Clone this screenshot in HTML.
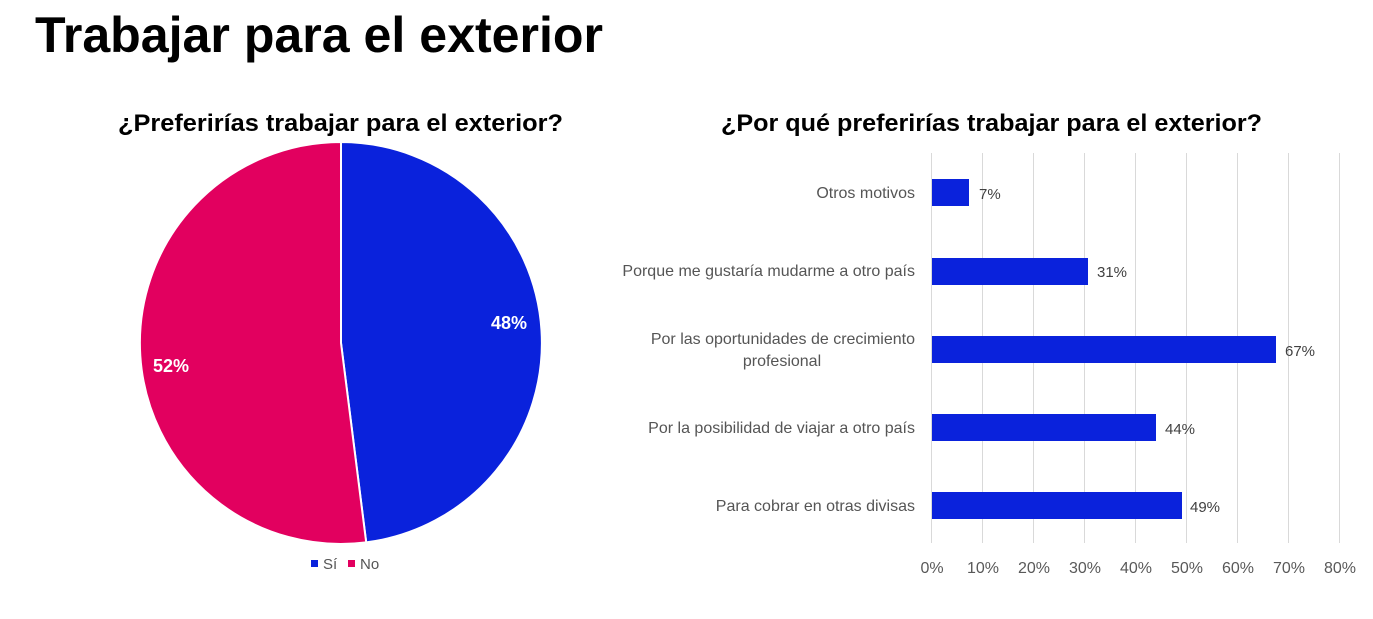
<!DOCTYPE html>
<html><head><meta charset="utf-8"><style>
body{margin:0;width:1373px;height:614px;background:#fff;overflow:hidden;font-family:"Liberation Sans",sans-serif}
</style></head><body>
<svg width="1373" height="614" xmlns="http://www.w3.org/2000/svg" font-family="Liberation Sans, sans-serif">
<text x="35" y="52" font-size="50" font-weight="bold" fill="#000" textLength="568" lengthAdjust="spacingAndGlyphs">Trabajar para el exterior</text>
<text x="118" y="131" font-size="24" font-weight="bold" fill="#000" textLength="445" lengthAdjust="spacingAndGlyphs">¿Preferirías trabajar para el exterior?</text>
<text x="721" y="131" font-size="24" font-weight="bold" fill="#000" textLength="541" lengthAdjust="spacingAndGlyphs">¿Por qué preferirías trabajar para el exterior?</text>
<path d="M341,343 L341,142 A201,201 0 0,1 366.2,542.4 Z" fill="#0a22dc" stroke="#fff" stroke-width="2"/>
<path d="M341,343 L366.2,542.4 A201,201 0 1,1 341,142 Z" fill="#e2005f" stroke="#fff" stroke-width="2"/>
<text x="509" y="329" font-size="18" font-weight="bold" fill="#fff" text-anchor="middle">48%</text>
<text x="171" y="372" font-size="18" font-weight="bold" fill="#fff" text-anchor="middle">52%</text>
<rect x="311" y="560" width="7" height="7" fill="#0a22dc"/>
<text x="323" y="569" font-size="15" fill="#555">Sí</text>
<rect x="348" y="560" width="7" height="7" fill="#e2005f"/>
<text x="360" y="569" font-size="15" fill="#555">No</text>
<g stroke="#d9d9d9" stroke-width="1">
<line x1="931.5" y1="153" x2="931.5" y2="543"/><line x1="982.5" y1="153" x2="982.5" y2="543"/><line x1="1033.5" y1="153" x2="1033.5" y2="543"/><line x1="1084.5" y1="153" x2="1084.5" y2="543"/><line x1="1135.5" y1="153" x2="1135.5" y2="543"/><line x1="1186.5" y1="153" x2="1186.5" y2="543"/><line x1="1237.5" y1="153" x2="1237.5" y2="543"/><line x1="1288.5" y1="153" x2="1288.5" y2="543"/><line x1="1339.5" y1="153" x2="1339.5" y2="543"/>
</g>
<g fill="#0a22dc">
<rect x="932" y="179" width="37" height="27"/>
<rect x="932" y="258" width="156" height="27"/>
<rect x="932" y="336" width="344" height="27"/>
<rect x="932" y="414" width="224" height="27"/>
<rect x="932" y="492" width="250" height="27"/>
</g>
<g font-size="15" fill="#404040">
<text x="979" y="199">7%</text>
<text x="1097" y="277">31%</text>
<text x="1285" y="356">67%</text>
<text x="1165" y="434">44%</text>
<text x="1190" y="512">49%</text>
</g>
<g font-size="16" fill="#555" text-anchor="end">
<text x="915" y="198">Otros motivos</text>
<text x="915" y="276">Porque me gustaría mudarme a otro país</text>
<text x="915" y="344">Por las oportunidades de crecimiento</text>
<text x="782" y="366" text-anchor="middle">profesional</text>
<text x="915" y="433">Por la posibilidad de viajar a otro país</text>
<text x="915" y="511">Para cobrar en otras divisas</text>
</g>
<g font-size="16" fill="#595959" text-anchor="middle">
<text x="932" y="573">0%</text><text x="983" y="573">10%</text><text x="1034" y="573">20%</text><text x="1085" y="573">30%</text><text x="1136" y="573">40%</text><text x="1187" y="573">50%</text><text x="1238" y="573">60%</text><text x="1289" y="573">70%</text><text x="1340" y="573">80%</text>
</g>
</svg>
</body></html>
